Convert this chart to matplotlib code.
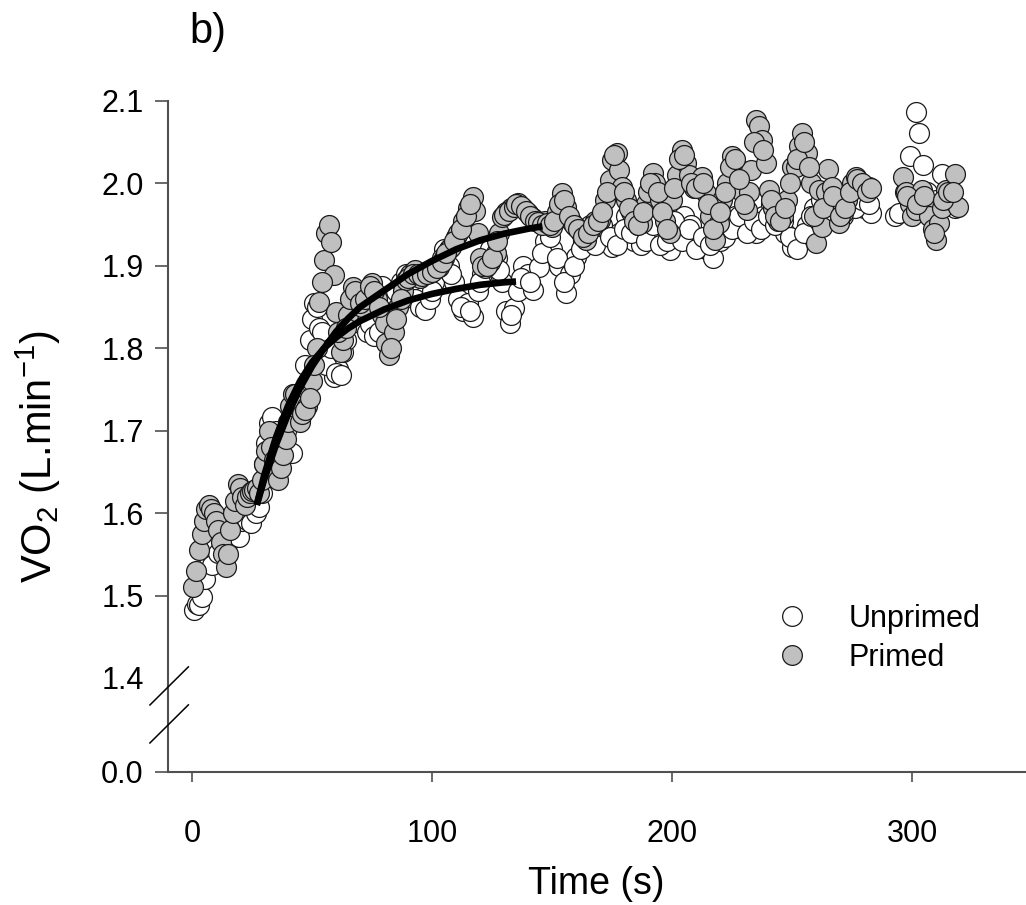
"""VO2 on-kinetics, unprimed vs primed (panel b) with a broken y axis."""
import matplotlib
matplotlib.use("Agg")
import matplotlib.pyplot as plt
from matplotlib.lines import Line2D

plt.rcParams["font.family"] = ["Liberation Sans", "DejaVu Sans"]
plt.rcParams["mathtext.fontset"] = "custom"
plt.rcParams["mathtext.rm"] = "Liberation Sans"
plt.rcParams["mathtext.it"] = "Liberation Sans:italic"

# ── Data ──────────────────────────────────────────────────────────────────────
t_unprimed = [1, 2, 3, 4, 5.5, 7, 8.5, 10, 11, 13,
              15, 17, 19.5, 21, 23, 24.5, 26.5, 28, 29, 30,
              31, 32, 33.5, 35, 37, 39, 41.5, 43, 45, 47,
              49, 50, 51, 52, 53, 55, 57, 59, 61, 63,
              65, 67, 69, 71, 73, 75, 77, 79, 81, 83,
              85, 87, 89, 91, 93, 95, 97, 99, 101, 103,
              105, 107, 109, 111, 113, 115, 117, 119, 121, 123,
              125, 127, 129, 131, 132.5, 134, 136, 138, 140, 142,
              144.5, 147, 150, 153, 156, 157.5, 160, 163, 166, 169,
              172, 175, 178, 181, 184, 187, 190, 193, 196, 199,
              202, 205, 208, 211, 214, 217, 220, 223, 226, 229,
              232, 235, 238, 241, 244, 247, 250, 253, 256, 259,
              262, 265, 268, 271, 274, 277, 280, 283, 293, 294.5,
              297, 299, 301.5, 303, 304.5, 306, 308, 310, 312.5, 315,
              318,
              54, 56, 58, 60, 62, 64, 66, 68, 70, 72,
              74, 76, 78, 100, 104, 108, 112, 116, 120, 124,
              128, 133, 137, 141, 146, 149, 152, 155, 159, 162,
              165, 168, 171, 174, 177, 180, 183, 186, 189, 192,
              195, 198, 201, 204, 207, 210, 213, 216, 219, 222,
              225, 228, 231, 234, 237, 240, 243, 246, 249, 252,
              255, 258, 261, 264, 267, 270, 273, 276, 279, 282]
vo2_unprimed = [1.482, 1.490, 1.488, 1.498, 1.520, 1.545, 1.537, 1.560, 1.552, 1.575,
                1.585, 1.570, 1.571, 1.590, 1.592, 1.588, 1.600, 1.607, 1.625, 1.660,
                1.685, 1.709, 1.717, 1.700, 1.690, 1.700, 1.673, 1.720, 1.745, 1.780,
                1.810, 1.835, 1.855, 1.850, 1.825, 1.800, 1.790, 1.765, 1.775, 1.795,
                1.835, 1.860, 1.850, 1.830, 1.820, 1.840, 1.860, 1.875, 1.850, 1.860,
                1.870, 1.880, 1.890, 1.880, 1.860, 1.850, 1.847, 1.860, 1.880, 1.900,
                1.920, 1.900, 1.880, 1.860, 1.845, 1.855, 1.838, 1.870, 1.890, 1.910,
                1.930, 1.910, 1.880, 1.845, 1.831, 1.849, 1.870, 1.900, 1.890, 1.871,
                1.899, 1.930, 1.920, 1.900, 1.867, 1.890, 1.911, 1.930, 1.950, 1.940,
                1.930, 1.923, 1.940, 1.960, 1.930, 1.925, 1.940, 1.960, 1.935, 1.919,
                1.940, 1.960, 1.950, 1.930, 1.920, 1.910, 1.930, 1.950, 1.960, 1.945,
                1.950, 1.940, 1.960, 1.975, 1.960, 1.940, 1.923, 1.930, 1.950, 1.970,
                1.980, 1.970, 1.985, 1.960, 1.970, 1.980, 1.970, 1.964, 1.960, 1.964,
                1.990, 2.033, 2.087, 2.061, 2.022, 1.990, 1.975, 1.980, 2.012, 1.985,
                1.970,
                1.820, 1.780, 1.800, 1.770, 1.767, 1.810, 1.850, 1.870, 1.855, 1.845,
                1.830, 1.815, 1.820, 1.870, 1.910, 1.890, 1.850, 1.845, 1.880, 1.920,
                1.895, 1.840, 1.885, 1.880, 1.915, 1.935, 1.910, 1.880, 1.900, 1.920,
                1.935, 1.925, 1.950, 1.935, 1.925, 1.945, 1.940, 1.950, 1.930, 1.950,
                1.925, 1.930, 1.955, 1.930, 1.945, 1.920, 1.935, 1.925, 1.950, 1.935,
                1.945, 1.960, 1.940, 1.955, 1.945, 1.960, 1.950, 1.955, 1.935, 1.920,
                1.940, 1.960, 1.955, 1.975, 1.965, 1.975, 1.990, 1.970, 1.980, 1.975]

t_primed = [0.5, 1.5, 3, 4, 5, 6, 7, 8, 9, 10,
            11, 12, 13, 14, 15, 16, 17, 18, 19, 20,
            21, 22, 23, 24, 25, 26, 27, 28, 29, 30,
            31, 32, 33, 34, 35, 36, 37, 38, 39, 40,
            41, 42, 43, 44, 45, 46, 48, 50, 52, 53,
            55, 56, 57, 58, 59, 60, 62, 63, 65, 67,
            69, 71, 73, 75, 77, 79, 80.5, 81, 82, 84,
            86, 88, 89, 91, 93, 95, 97, 99, 101, 103,
            105, 107, 108, 110, 111, 113, 115, 117, 118, 119,
            120, 122, 124, 126.5, 128, 129, 131, 133, 136, 138,
            140, 142, 145, 147, 150, 152, 154, 156, 158, 160,
            162, 164, 166, 168, 170, 172, 174, 175, 177, 178,
            179, 181, 183, 185, 187.5, 189, 190, 192, 193, 195,
            197, 199, 200, 202, 204, 206, 207, 209, 211, 212.5,
            214, 216, 218, 219.5, 221, 223, 225, 227, 229, 231,
            232, 233, 235, 236, 237.5, 239, 240.5, 242, 244, 246,
            248, 250, 251.5, 253, 254, 256, 258, 260, 261, 262.5,
            264, 265, 266.5, 268, 269.5, 271, 273, 275, 276.5, 278,
            280, 282, 296, 297.5, 299, 300, 301.5, 303, 304, 306,
            307, 308.5, 310, 311, 312.5, 314, 316, 318, 319,
            47, 49, 51, 54, 61, 64, 66, 68, 70, 72,
            74, 76, 78, 83, 85, 87, 90, 92, 94, 96,
            98, 100, 102, 104, 106, 109, 112, 114, 116, 121,
            123, 125, 127, 130, 132, 134, 135, 137, 139, 141,
            143, 144, 146, 148, 149, 151, 153, 155, 157, 159,
            161, 163, 165, 167, 169, 171, 173, 176, 180, 182,
            184, 186, 188, 191, 194, 196, 198, 201, 203, 205,
            208, 210, 213, 215, 217, 220, 222, 224, 226, 228,
            230, 234, 238, 241, 243, 245, 247, 249, 252, 255,
            257, 259, 263, 267, 270, 272, 274, 277, 279, 281,
            283, 298, 302, 305, 309, 313, 315, 317]
vo2_primed = [1.510, 1.530, 1.555, 1.575, 1.590, 1.605, 1.610, 1.605, 1.600, 1.590,
              1.580, 1.565, 1.550, 1.535, 1.550, 1.580, 1.600, 1.615, 1.635, 1.630,
              1.620, 1.610, 1.620, 1.625, 1.627, 1.628, 1.630, 1.625, 1.640, 1.660,
              1.675, 1.700, 1.680, 1.665, 1.650, 1.640, 1.655, 1.670, 1.690, 1.710,
              1.730, 1.745, 1.745, 1.730, 1.710, 1.720, 1.730, 1.760, 1.800, 1.856,
              1.907, 1.940, 1.949, 1.929, 1.889, 1.844, 1.796, 1.810, 1.840, 1.874,
              1.860, 1.850, 1.870, 1.879, 1.860, 1.840, 1.831, 1.806, 1.792, 1.820,
              1.850, 1.870, 1.883, 1.890, 1.895, 1.885, 1.891, 1.891, 1.895, 1.899,
              1.910, 1.920, 1.923, 1.935, 1.940, 1.955, 1.970, 1.983, 1.966, 1.940,
              1.910, 1.897, 1.905, 1.915, 1.940, 1.959, 1.965, 1.970, 1.976, 1.970,
              1.964, 1.958, 1.952, 1.955, 1.947, 1.965, 1.988, 1.971, 1.955, 1.947,
              1.940, 1.931, 1.945, 1.955, 1.956, 1.980, 2.004, 2.028, 2.037, 2.016,
              1.996, 1.980, 1.965, 1.960, 1.952, 1.975, 1.990, 2.013, 2.000, 1.980,
              1.955, 1.940, 1.980, 2.010, 2.040, 2.025, 2.010, 1.995, 2.000, 2.008,
              1.988, 1.960, 1.931, 1.952, 1.980, 2.000, 2.033, 2.020, 1.990, 1.968,
              1.990, 2.016, 2.077, 2.070, 2.053, 2.025, 1.992, 1.970, 1.955, 1.960,
              1.980, 2.020, 2.020, 2.045, 2.061, 2.037, 2.000, 1.928, 1.992, 1.947,
              1.990, 2.018, 1.996, 1.970, 1.952, 1.964, 1.980, 2.000, 2.008, 2.000,
              1.995, 1.996, 2.008, 1.990, 1.975, 1.960, 1.968, 1.980, 1.992, 1.976,
              1.960, 1.945, 1.931, 1.952, 1.970, 1.992, 1.980, 2.012, 1.971,
              1.725, 1.740, 1.780, 1.880, 1.820, 1.825, 1.860, 1.870, 1.855, 1.860,
              1.875, 1.870, 1.850, 1.800, 1.835, 1.860, 1.885, 1.890, 1.890, 1.888,
              1.890, 1.893, 1.897, 1.905, 1.915, 1.930, 1.945, 1.960, 1.975, 1.900,
              1.900, 1.910, 1.930, 1.962, 1.967, 1.972, 1.975, 1.973, 1.967, 1.960,
              1.955, 1.953, 1.950, 1.952, 1.950, 1.955, 1.975, 1.980, 1.960, 1.950,
              1.945, 1.935, 1.940, 1.950, 1.955, 1.965, 1.990, 2.035, 1.990, 1.970,
              1.955, 1.950, 1.965, 2.000, 1.990, 1.965, 1.945, 1.995, 2.030, 2.035,
              2.000, 1.995, 2.000, 1.975, 1.945, 1.965, 1.990, 2.020, 2.030, 2.005,
              1.975, 2.050, 2.040, 1.980, 1.960, 1.955, 1.970, 2.000, 2.030, 2.050,
              2.020, 1.960, 1.970, 1.985, 1.960, 1.970, 1.990, 2.005, 2.000, 1.990,
              1.995, 1.985, 1.975, 1.985, 1.940, 1.980, 1.990, 1.990]

# mono-exponential fits
t_fit_primed = [27, 30, 35, 40, 45, 50, 55, 60, 65, 70, 80, 90, 100, 110, 120, 130, 140, 146]
vo2_fit_primed = [1.610, 1.640, 1.683, 1.720, 1.752, 1.778, 1.800, 1.820, 1.836, 1.850,
                  1.870, 1.890, 1.906, 1.920, 1.931, 1.939, 1.945, 1.948]
t_fit_unprimed = [27, 30, 35, 40, 45, 50, 55, 60, 65, 70, 80, 90, 100, 110, 120, 130, 135]
vo2_fit_unprimed = [1.610, 1.645, 1.692, 1.730, 1.760, 1.783, 1.800, 1.813, 1.824, 1.833,
                    1.847, 1.858, 1.866, 1.872, 1.877, 1.880, 1.881]

# y axis: 1.4–2.1 continuous, then a break down to 0.0
ZERO_POS = 1.286
y_ticks = [ZERO_POS, 1.4, 1.5, 1.6, 1.7, 1.8, 1.9, 2.0, 2.1]
y_tick_labels = ["0.0", "1.4", "1.5", "1.6", "1.7", "1.8", "1.9", "2.0", "2.1"]
x_ticks = [0, 100, 200, 300]

GREY = "#c0c0c0"
EDGE = "#1a1a1a"
SPINE = "#505050"

# ── Figure ────────────────────────────────────────────────────────────────────
fig = plt.figure(figsize=(10.26, 9.05), dpi=100)
ax = fig.add_axes([0.1637, 0.1470, 0.8353, 0.7414])

ax.scatter(t_unprimed, vo2_unprimed, s=205, facecolor="white", edgecolor=EDGE,
           linewidths=0.9, zorder=2, clip_on=False)
ax.scatter(t_primed, vo2_primed, s=205, facecolor=GREY, edgecolor=EDGE,
           linewidths=0.9, zorder=3, clip_on=False)
ax.plot(t_fit_primed, vo2_fit_primed, color="black", lw=4.8, zorder=4,
        solid_capstyle="butt")
ax.plot(t_fit_unprimed, vo2_fit_unprimed, color="black", lw=4.8, zorder=4,
        solid_capstyle="butt")

ax.set_xlim(-10, 347)
ax.set_ylim(ZERO_POS, 2.1)
ax.set_xticks(x_ticks)
ax.set_yticks(y_ticks)
ax.set_yticklabels(y_tick_labels)

for side in ("top", "right"):
    ax.spines[side].set_visible(False)
for side in ("left", "bottom"):
    ax.spines[side].set_color(SPINE)
    ax.spines[side].set_linewidth(1.5)

ax.tick_params(axis="both", labelsize=22, color=SPINE, width=1.2)
ax.tick_params(axis="y", length=9.5, pad=8)
ax.tick_params(axis="x", length=7, pad=27)
ax.yaxis.get_major_ticks()[1].tick1line.set_visible(False)

# break marks on the y axis
for y0 in (1.3443, 1.3904):
    ax.plot([-17.5, -1.5], [y0 - 0.0231, y0 + 0.0231], color="black", lw=1.1,
            clip_on=False, zorder=5)

ax.set_xlabel("Time (s)", fontsize=27, labelpad=12)
ax.set_ylabel("VO$_2$ (L.min$^{-1}$)", fontsize=30)
ax.yaxis.set_label_coords(-0.123, 0.47)

fig.text(0.185, 0.9525, "b)", fontsize=30, ha="left", va="baseline")

handles = [
    Line2D([], [], ls="none", marker="o", markersize=14.2, markerfacecolor="white",
           markeredgecolor=EDGE, markeredgewidth=0.9),
    Line2D([], [], ls="none", marker="o", markersize=14.2, markerfacecolor=GREY,
           markeredgecolor=EDGE, markeredgewidth=0.9),
]
ax.legend(handles, ["Unprimed", "Primed"], loc="upper left",
          bbox_to_anchor=(777 / 1026, 1 - 604 / 905), bbox_transform=fig.transFigure,
          frameon=False, fontsize=22, handlelength=1.0, handletextpad=1.34,
          labelspacing=0.28, borderpad=0, borderaxespad=0)

fig.savefig("out.png", dpi=100)
